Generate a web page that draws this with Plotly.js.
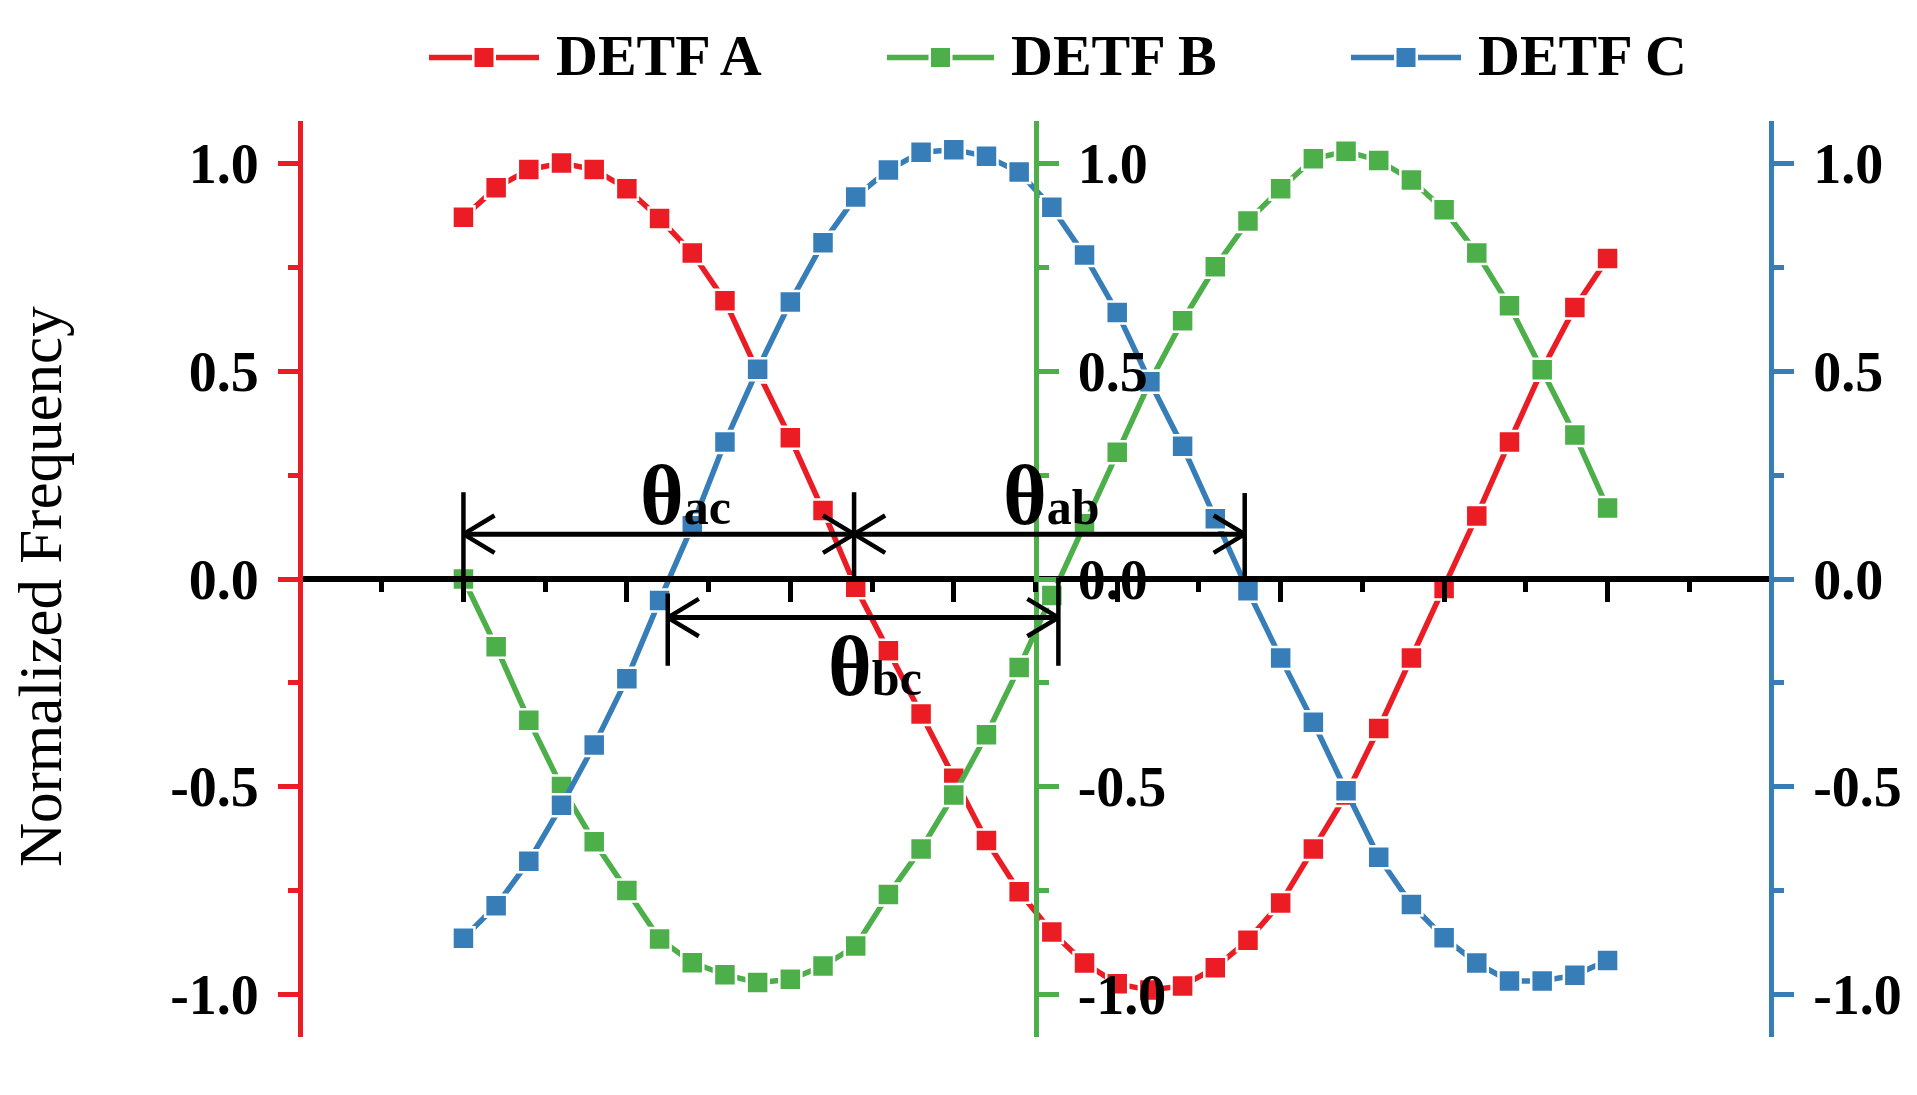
<!DOCTYPE html>
<html>
<head>
<meta charset="utf-8">
<script src="https://cdn.plot.ly/plotly-3.0.1.min.js"></script>
<style>
  body { margin: 0; background: #fff; }
  #myPlot { width: 1917px; height: 1095px; }
</style>
</head>
<body>
<div id="myPlot"></div>
<script>
// phase of each sample (one point every 10 steps)
const phase = [0, 10, 20, 30, 40, 50, 60, 70, 80, 90, 100, 110, 120, 130, 140, 150, 160, 170,
  180, 190, 200, 210, 220, 230, 240, 250, 260, 270, 280, 290, 300, 310, 320, 330, 340, 350];

// normalized frequency
const detfA = [0.871, 0.942, 0.986, 1.002, 0.986, 0.94, 0.868, 0.785, 0.67, 0.5, 0.34, 0.165,
  -0.02, -0.173, -0.325, -0.48, -0.63, -0.753, -0.85, -0.925, -0.975, -0.99, -0.98, -0.936,
  -0.87, -0.78, -0.65, -0.52, -0.36, -0.19, -0.023, 0.152, 0.33, 0.504, 0.654, 0.772];
const detfB = [0.0, -0.163, -0.34, -0.5, -0.633, -0.75, -0.867, -0.924, -0.953, -0.972, -0.964, -0.932,
  -0.884, -0.76, -0.65, -0.52, -0.375, -0.213, -0.04, 0.133, 0.305, 0.475, 0.622, 0.752,
  0.862, 0.94, 1.012, 1.03, 1.008, 0.961, 0.889, 0.785, 0.658, 0.504, 0.347, 0.171];
const detfC = [-0.865, -0.787, -0.68, -0.545, -0.4, -0.24, -0.052, 0.128, 0.33, 0.505, 0.667, 0.81,
  0.92, 0.985, 1.028, 1.034, 1.018, 0.98, 0.895, 0.78, 0.642, 0.475, 0.32, 0.145,
  -0.028, -0.19, -0.345, -0.51, -0.67, -0.784, -0.864, -0.925, -0.968, -0.968, -0.954, -0.919];

const names = ['DETF A', 'DETF B', 'DETF C'];
const colors = ['#EC1C24', '#4DAF4A', '#377EB8'];

// tick positions / labels
const xMajor = [0, 50, 100, 150, 200, 250, 300, 350];
const xMinor = [-25, 25, 75, 125, 175, 225, 275, 325, 375];
const yTicks = [-1, -0.5, 0, 0.5, 1];
const yTickText = ['-1.0', '-0.5', '0.0', '0.5', '1.0'];
const yMinor = [-0.75, -0.25, 0.25, 0.75];

// phase difference arrows (start, end, level) and their end bars
const arrowName = ['ac', 'ab', 'bc'];
const arrowStart = [0, 119.5, 62.5];
const arrowEnd = [119.5, 239, 182];
const arrowLevel = [0.108, 0.108, -0.093];
const barX = [0, 119.5, 239, 62.5, 182];
const barTop = [0.209, 0.209, 0.207, -0.035, 0.004];
const barBottom = [0, 0, 0, -0.209, -0.209];

const series = [detfA, detfB, detfC];
const yAxisIds = ['y', 'y2', 'y3'];

var data = [];
for (var i = 0; i < series.length; i++) {
  data.push({
    x: phase,
    y: series[i],
    yaxis: yAxisIds[i],
    name: names[i],
    mode: 'lines+markers',
    showlegend: false,
    line: {color: colors[i], width: 5.5},
    marker: {symbol: 'square', size: 22, color: colors[i], line: {color: 'white', width: 2.5}}
  });
}

// plot area in pixels -> paper coords helpers
const L = 300, R = 146, T = 121, B = 58;
const W = 1917 - L - R, H = 1095 - T - B;
function paperX(px) { return (px - L) / W; }
function paperY(py) { return (1095 - B - py) / H; }

const tickFont = {family: 'Liberation Serif', size: 56, weight: 'bold', color: 'black'};

function yAxis(color, side, pos, overlay) {
  var ax = {
    range: [-1.103, 1.103],
    anchor: 'free', position: pos, side: side,
    showline: true, linecolor: color, linewidth: 5,
    ticks: 'outside', tickmode: 'array', tickvals: yTicks, ticktext: yTickText,
    ticklen: 20, tickwidth: 5, tickcolor: color,
    minor: {tickmode: 'array', tickvals: yMinor, ticks: 'outside', ticklen: 10, tickwidth: 5, tickcolor: color},
    tickfont: tickFont, ticklabelstandoff: 8,
    showgrid: false, zeroline: false, automargin: false, fixedrange: true
  };
  if (overlay) ax.overlaying = 'y';
  return ax;
}

var shapes = [];
var annotations = [];

// arrows for the phase differences
const headLen = 9.5, headHalf = 0.045;
function seg(x0, y0, x1, y1, w) {
  return {type: 'line', xref: 'x', yref: 'y', x0: x0, y0: y0, x1: x1, y1: y1,
    line: {color: 'black', width: w}, layer: 'above'};
}
for (var j = 0; j < arrowName.length; j++) {
  var a = arrowStart[j], b = arrowEnd[j], lv = arrowLevel[j];
  shapes.push(seg(a, lv, b, lv, 5));
  shapes.push(seg(a, lv, a + headLen, lv + headHalf, 4.5));
  shapes.push(seg(a, lv, a + headLen, lv - headHalf, 4.5));
  shapes.push(seg(b, lv, b - headLen, lv + headHalf, 4.5));
  shapes.push(seg(b, lv, b - headLen, lv - headHalf, 4.5));
}
for (var k = 0; k < barX.length; k++) {
  shapes.push(seg(barX[k], barBottom[k], barX[k], barTop[k], 4.5));
}

// theta labels
const labelX = [68, 180, 126];
const labelY = [0.2, 0.2, -0.211];
for (var j = 0; j < arrowName.length; j++) {
  annotations.push({
    xref: 'x', yref: 'y', x: labelX[j], y: labelY[j], xanchor: 'center', yanchor: 'middle',
    text: '\u03b8<span style="font-size:50px">' + arrowName[j] + '</span>',
    showarrow: false,
    font: {family: 'Liberation Serif', size: 84, weight: 'bold', color: 'black'}
  });
}

// legend drawn by hand so the sample line can be long
const legLineStart = [429, 887, 1351];
const legLineEnd = [539, 994, 1461];
const legTextX = [554, 1009, 1476];
const legY = 57.5;
for (var i = 0; i < names.length; i++) {
  var mid = (legLineStart[i] + legLineEnd[i]) / 2;
  shapes.push({type: 'line', xref: 'paper', yref: 'paper',
    x0: paperX(legLineStart[i]), x1: paperX(mid - 12), y0: paperY(legY), y1: paperY(legY),
    line: {color: colors[i], width: 5.5}});
  shapes.push({type: 'line', xref: 'paper', yref: 'paper',
    x0: paperX(mid + 12), x1: paperX(legLineEnd[i]), y0: paperY(legY), y1: paperY(legY),
    line: {color: colors[i], width: 5.5}});
  shapes.push({type: 'rect', xref: 'paper', yref: 'paper',
    x0: paperX(mid - 9.5), x1: paperX(mid + 9.5), y0: paperY(legY + 9.5), y1: paperY(legY - 9.5),
    fillcolor: colors[i], line: {width: 0}});
  annotations.push({
    xref: 'paper', yref: 'paper', x: paperX(legTextX[i]), y: paperY(55), xanchor: 'left', yanchor: 'middle',
    text: names[i], showarrow: false,
    font: {family: 'Liberation Serif', size: 58, weight: 'bold', color: 'black'}
  });
}

// y title
annotations.push({
  xref: 'paper', yref: 'paper', x: paperX(40), y: paperY(587), xanchor: 'center', yanchor: 'middle',
  text: 'Normalized Frequency', textangle: -90, showarrow: false,
  font: {family: 'Liberation Serif', size: 61, color: 'black'}
});

const layout = {
  width: 1917, height: 1095,
  margin: {l: L, r: R, t: T, b: B},
  paper_bgcolor: 'white', plot_bgcolor: 'rgba(0,0,0,0)',
  font: {family: 'Liberation Serif', color: 'black'},
  showlegend: false,
  hovermode: false,
  xaxis: {
    range: [-50, 400], anchor: 'free', position: 0.5,
    showline: true, linecolor: 'black', linewidth: 6,
    ticks: 'outside', tickmode: 'array', tickvals: xMajor, ticklen: 20, tickwidth: 5, tickcolor: 'black',
    minor: {tickmode: 'array', tickvals: xMinor, ticks: 'outside', ticklen: 10, tickwidth: 5, tickcolor: 'black'},
    showticklabels: false, showgrid: false, zeroline: false, fixedrange: true
  },
  yaxis: yAxis(colors[0], 'left', 0, false),
  yaxis2: yAxis(colors[1], 'right', 0.5, true),
  yaxis3: yAxis(colors[2], 'right', 1, true),
  shapes: shapes,
  annotations: annotations
};

Plotly.newPlot('myPlot', data, layout, {displayModeBar: false, staticPlot: true});
</script>
</body>
</html>
